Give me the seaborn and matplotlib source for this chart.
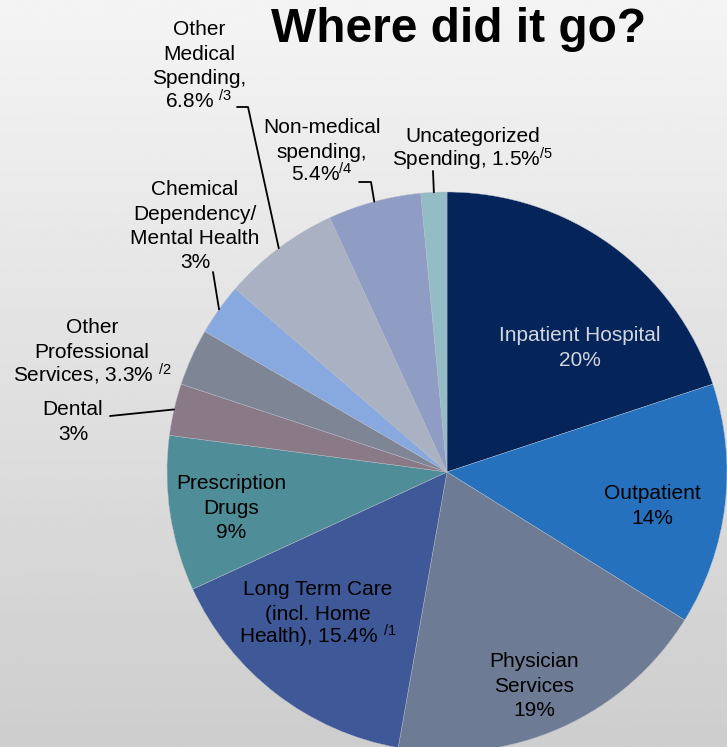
import numpy as np
import matplotlib
matplotlib.use("Agg")
import matplotlib.pyplot as plt
import seaborn as sns

# Spending shares (percent), clockwise from 12 o'clock
categories = [
    "Inpatient Hospital", "Outpatient", "Physician Services",
    "Long Term Care", "Prescription Drugs", "Dental",
    "Other Professional Services", "Chemical Dependency/Mental Health",
    "Other Medical Spending", "Non-medical spending", "Uncategorized Spending",
]
values = [20, 14, 19, 15.4, 9, 3, 3.3, 3, 6.8, 5.4, 1.5]
labels = [
    ["Inpatient Hospital", "20%"],
    ["Outpatient", "14%"],
    ["Physician", "Services", "19%"],
    ["Long Term Care", "(incl. Home", "Health), 15.4% $^{/1}$"],
    ["Prescription", "Drugs", "9%"],
    ["Dental", "3%"],
    ["Other", "Professional", "Services, 3.3% $^{/2}$"],
    ["Chemical", "Dependency/", "Mental Health", "3%"],
    ["Other", "Medical", "Spending,", "6.8% $^{/3}$"],
    ["Non-medical", "spending,", "5.4%$^{/4}$"],
    ["Uncategorized", "Spending, 1.5%$^{/5}$"],
]
colors = ["#04245a", "#2571be", "#6e7b94", "#3f5898", "#4f8e98", "#8a7a88",
          "#7e8594", "#88a8e0", "#a9b1c2", "#8f9cc4", "#94bcc4"]

sns.set_theme(style="white")
plt.rcParams["font.family"] = ["Liberation Sans", "DejaVu Sans"]
plt.rcParams["mathtext.fontset"] = "custom"
plt.rcParams["mathtext.rm"] = "Liberation Sans"
plt.rcParams["mathtext.default"] = "regular"

W, H = 727, 747
fig = plt.figure(figsize=(W / 100, H / 100), dpi=100)
ax = fig.add_axes([0, 0, 1, 1])

# vertical gray gradient background
grad = np.linspace(0.957, 0.805, 256).reshape(-1, 1)
ax.imshow(grad, cmap="gray", vmin=0, vmax=1, extent=(0, W, 0, H),
          aspect="auto", origin="upper", zorder=0)

cx, cy, r = 447, H - 472, 280
wedges, _ = ax.pie(values, colors=colors, startangle=90, counterclock=False,
                   center=(cx, cy), radius=r, frame=True,
                   wedgeprops=dict(edgecolor="#b8bec9", linewidth=0.3))
ax.set_xlim(0, W)
ax.set_ylim(0, H)
ax.axis("off")
for w in wedges:
    w.set_zorder(1)


def edge_point(w):
    ang = np.deg2rad((w.theta1 + w.theta2) / 2)
    return cx + r * np.cos(ang), cy + r * np.sin(ang)


# label centre x and first-line baseline y (pixels from top-left)
label_pos = [(580, 341), (652, 499), (534, 667), (318, 595), (231, 489),
             (73, 415), (92, 333), (195, 195), (199, 35), (322, 133),
             (473, 142)]
text_colors = ["#d2d6de"] + ["black"] * 10
line_step = 24.5

for lines, (x, y0), tc in zip(labels, label_pos, text_colors):
    for k, line in enumerate(lines):
        ax.text(x, H - (y0 + k * line_step), line, ha="center", va="baseline",
                fontsize=15, color=tc, zorder=3)

# leader lines: label anchor (and elbow) -> wedge rim
leaders = {
    5: [(110, 416)],
    7: [(213, 272)],
    8: [(237, 107), (248, 107)],
    9: [(359, 182), (371, 182)],
    10: [(433, 171)],
}
for i, pts in leaders.items():
    ex, ey = edge_point(wedges[i])
    xs = [p[0] for p in pts] + [ex]
    ys = [H - p[1] for p in pts] + [ey]
    ax.plot(xs, ys, color="black", linewidth=1.3, zorder=2)

ax.text(459, H - 42, "Where did it go?", ha="center", va="baseline",
        fontsize=34.5, fontweight="bold", color="black", zorder=3)

fig.savefig("out.png", dpi=100)
